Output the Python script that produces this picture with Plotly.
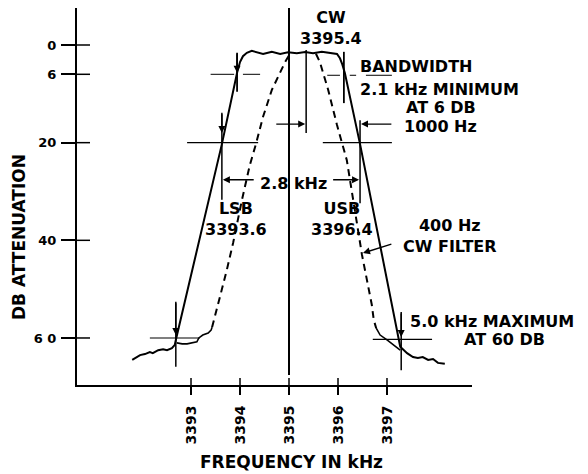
import plotly.graph_objects as go

# ---------------- data ----------------
x_tick_vals = [3393, 3394, 3395, 3396, 3397]
x_tick_text = ["3393", "3394", "3395", "3396", "3397"]
y_tick_vals = [0, 6, 20, 40, 60]
y_tick_text = ["0", "6", "20", "40", "6 0"]

# SSB filter response (solid)
ssb_freq = [3391.80, 3391.96, 3392.06, 3392.16, 3392.22, 3392.33, 3392.43, 3392.51,
            3392.61, 3392.67, 3392.69, 3393.63, 3393.94, 3394.00, 3394.06, 3394.14,
            3394.24, 3394.31, 3394.47, 3394.65, 3394.82, 3394.98, 3395.16, 3395.33,
            3395.49, 3395.67, 3395.84, 3395.98, 3396.04, 3396.08, 3396.14, 3396.45,
            3397.27, 3397.41, 3397.53, 3397.63, 3397.73, 3397.84, 3397.94, 3398.04,
            3398.18]
ssb_db = [64.5, 63.5, 63.3, 62.9, 63.1, 62.5, 62.3, 62.5,
          62.1, 61.4, 60.4, 20.3, 5.7, 3.5, 2.3, 1.6,
          1.2, 1.37, 1.84, 1.37, 1.84, 1.5, 1.7, 1.43,
          1.7, 1.37, 1.58, 1.84, 2.72, 3.75, 5.73, 20.3,
          61.8, 63.1, 63.9, 64.1, 63.9, 64.5, 64.3, 65.1,
          65.3]

# 400 Hz CW filter response
cw_low_left_freq = [3392.71, 3392.82, 3392.92, 3393.02, 3393.12, 3393.16, 3393.24, 3393.35, 3393.41, 3393.43]
cw_low_left_db = [61.0, 61.2, 61.2, 61.0, 60.8, 60.0, 59.4, 59.0, 58.4, 57.8]
cw_left_freq = [3393.43, 3393.49, 3393.59, 3393.73, 3393.86, 3394.04, 3394.20, 3394.33,
                3394.47, 3394.65, 3394.82, 3394.92, 3395.02]
cw_left_db = [57.8, 55.3, 51.6, 46.1, 40.5, 31.7, 24.6, 20.1, 14.7, 9.2, 5.5, 3.5, 1.8]
cw_right_freq = [3395.55, 3395.63, 3395.80, 3395.98, 3396.18, 3396.31, 3396.41, 3396.49,
                 3396.59, 3396.69, 3396.73, 3396.78]
cw_right_db = [1.8, 3.5, 9.2, 16.4, 23.6, 31.7, 37.9, 43.0, 48.1, 53.2, 56.3, 58.0]
cw_low_right_freq = [3396.78, 3396.86, 3397.00, 3397.12, 3397.27]
cw_low_right_db = [58.0, 59.4, 60.4, 61.4, 62.5]

# key frequencies (kHz)
carrier = 3395.0
cw_center = 3395.35
lsb_20 = 3393.63
usb_20 = 3396.45
lsb_6 = 3393.94
usb_6 = 3396.12
lsb_60 = 3392.69
usb_60 = 3397.29

# ---------------- figure ----------------
FONT = "DejaVu Sans"
fig = go.Figure()

blk = dict(color="black", width=2)
fig.add_trace(go.Scatter(x=ssb_freq, y=ssb_db, mode="lines", line=blk, hoverinfo="skip"))
fig.add_trace(go.Scatter(x=cw_low_left_freq, y=cw_low_left_db, mode="lines",
                         line=dict(color="black", width=1.6), hoverinfo="skip"))
fig.add_trace(go.Scatter(x=cw_low_right_freq, y=cw_low_right_db, mode="lines",
                         line=dict(color="black", width=1.6), hoverinfo="skip"))
dash = dict(color="black", width=2, dash="7px,5px")
fig.add_trace(go.Scatter(x=cw_left_freq, y=cw_left_db, mode="lines", line=dash, hoverinfo="skip"))
fig.add_trace(go.Scatter(x=cw_right_freq, y=cw_right_db, mode="lines", line=dash, hoverinfo="skip"))

def seg(x0, y0, x1, y1, w=1.3):
    fig.add_shape(type="line", xref="x", yref="y", x0=x0, y0=y0, x1=x1, y1=y1,
                  line=dict(color="black", width=w))

# centre (carrier) line and CW centre line
seg(carrier, -7.8, carrier, 67.6, 2)
seg(cw_center, 1.0, cw_center, 18.0, 1.5)
# 6 dB markers
seg(3393.40, 6, 3393.88, 6, 1)
seg(3394.06, 6, 3394.41, 6, 1)
seg(lsb_6, 1.6, lsb_6, 9.6, 1.8)
seg(3395.78, 6.2, 3396.04, 6.2, 1)
seg(3396.24, 6.2, 3396.37, 6.2, 1)
seg(3396.57, 6.2, 3397.10, 6.2, 1)
seg(usb_6, 1.4, usb_6, 11.9, 1.8)
# 20 dB markers
seg(3392.92, 20, 3394.37, 20, 1.2)
seg(3395.69, 20, 3397.10, 20, 1.2)
seg(lsb_20, 13.9, lsb_20, 31.7, 1.5)
seg(usb_20, 15.4, usb_20, 32.4, 1.5)
# 60 dB markers
seg(3392.16, 60, 3393.18, 60, 1.2)
seg(lsb_60, 52.6, lsb_60, 65.9, 1.5)
seg(3396.71, 60.3, 3397.92, 60.3, 1.2)
seg(usb_60, 54.7, usb_60, 66.6, 1.5)

# crossing parts of the axis ticks
for v in y_tick_vals:
    fig.add_shape(type="line", xref="paper", yref="y", x0=0, x1=13 / 395, y0=v, y1=v,
                  line=dict(color="black", width=1.5))
for v in x_tick_vals:
    fig.add_shape(type="line", xref="x", yref="paper", x0=v, x1=v, y0=0, y1=7 / 377,
                  line=dict(color="black", width=1.5))

def arrow(x, y, ax, ay):
    fig.add_annotation(x=x, y=y, ax=ax, ay=ay, xref="x", yref="y", axref="x", ayref="y",
                       text="", showarrow=True, arrowhead=2, arrowsize=1, arrowwidth=1.4,
                       arrowcolor="black", standoff=0)

arrow(lsb_20 + 0.02, 27.6, 3394.31, 27.6)
arrow(usb_20 - 0.02, 27.6, 3395.87, 27.6)
arrow(cw_center - 0.02, 16.2, 3394.71, 16.2)
arrow(usb_20 + 0.02, 16.2, 3397.12, 16.2)
arrow(3396.51, 42.6, 3397.12, 40.7)
arrow(lsb_60, 59.4, lsb_60, 52.6)
arrow(usb_60, 59.8, usb_60, 54.7)
arrow(lsb_6, 5.7, lsb_6, 1.6)
arrow(lsb_20, 18.0, lsb_20, 13.9)

tf = dict(family=FONT, size=16, color="black", weight="bold")

def label(text, x, y, xanchor="center", xref="x"):
    fig.add_annotation(x=x, y=y, xref=xref, yref="y", text=text, showarrow=False,
                       xanchor=xanchor, yanchor="middle", align="center", font=tf)

label("CW<br>3395.4", 3395.86, -3.5)
label("BANDWIDTH", 3396.41, 4.5, "left")
label("2.1 kHz MINIMUM", 3396.41, 9.2, "left")
label("AT 6 DB", 3398.10, 12.8)
label("1000 Hz", 3398.10, 16.7)
label("2.8 kHz", 3395.10, 28.3)
label("LSB<br>3393.6", 3393.92, 35.7)
label("USB<br>3396.4", 3396.08, 35.6)
label("400 Hz<br>CW FILTER", 3398.29, 39.1)
label("5.0 kHz MAXIMUM", 3397.43, 56.7, "left")
label("AT 60 DB", (504 - 77) / 395, 60.4, xref="paper")

# axis titles (placed off-centre as in the original)
title_font = dict(family=FONT, size=17, color="black", weight="bold")
fig.add_annotation(text="DB ATTENUATION", xref="paper", yref="paper",
                   x=(19 - 77) / 395, y=(385 - 237) / 377, textangle=-90,
                   showarrow=False, xanchor="center", yanchor="middle", font=title_font)
fig.add_annotation(text="FREQUENCY IN kHz", xref="paper", yref="paper",
                   x=(291 - 77) / 395, y=(385 - 462) / 377,
                   showarrow=False, xanchor="center", yanchor="middle", font=title_font)

fig.update_layout(
    width=588, height=474,
    margin=dict(l=69, r=124, t=0, b=97),
    paper_bgcolor="white", plot_bgcolor="white",
    showlegend=False,
    xaxis=dict(range=[3390.673, 3398.735], showgrid=False, zeroline=False, automargin=False,
               showline=True, linecolor="black", linewidth=2,
               tickmode="array", tickvals=x_tick_vals, ticktext=x_tick_text,
               ticks="outside", ticklen=8, tickwidth=1.5, tickcolor="black",
               tickangle=-90, ticklabelstandoff=5,
               tickfont=dict(family=FONT, size=14, color="black", weight="bold")),
    yaxis=dict(range=[69.63, -7.577], showgrid=False, zeroline=False, automargin=False,
               showline=True, linecolor="black", linewidth=2,
               tickmode="array", tickvals=y_tick_vals, ticktext=y_tick_text,
               ticks="outside", ticklen=14, tickwidth=1.5, tickcolor="black",
               ticklabelstandoff=2,
               tickfont=dict(family=FONT, size=13, color="black", weight="bold")),
)

fig.write_html("out.html")
